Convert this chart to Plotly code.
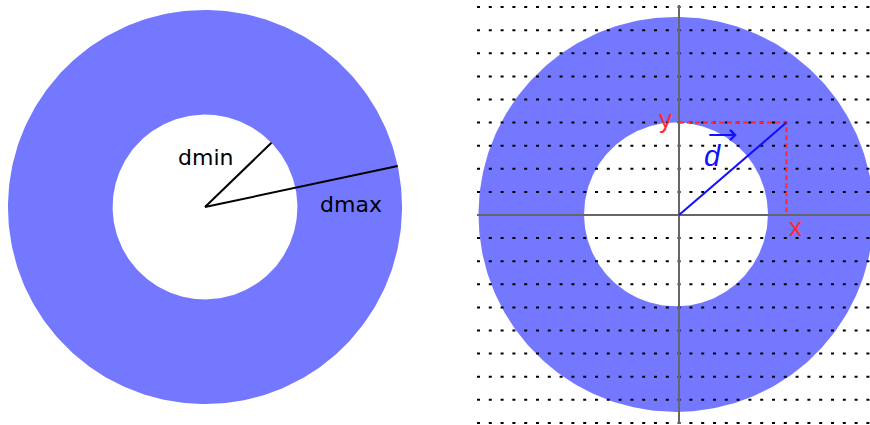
import numpy as np
import plotly.graph_objects as go

# ---- data ----
U = 23.1  # px per unit (layout only)
left_dmin = 4.0
left_dmax = 8.53
left_dmin_angle = 44.0
left_dmax_angle = 12.0
right_dmin = 3.98
right_dmax = 8.55
vec_d = [4.65, 4.0]
grid_rows = list(range(-9, 10))
labels_left = ["dmin", "dmax"]

FILL = "#7378ff"
FONT = "DejaVu Sans, Liberation Sans, Arial, sans-serif"
FONT2 = "Liberation Sans, Arial, sans-serif"
RING2_CENTER = (-3 / U, 0.6 / U)  # drawing offset of the right ring


def ring(r_in, r_out, cx=0.0, cy=0.0, n=361):
    t = np.linspace(0, 2 * np.pi, n)
    xo = list(cx + r_out * np.cos(t))
    yo = list(cy + r_out * np.sin(t))
    xi = list(cx + r_in * np.cos(-t))
    yi = list(cy + r_in * np.sin(-t))
    return xo + [None] + xi, yo + [None] + yi


fig = go.Figure()

# left annulus
rx, ry = ring(left_dmin, left_dmax)
fig.add_trace(go.Scatter(x=rx, y=ry, fill="toself", fillcolor=FILL, mode="lines",
                         line=dict(width=0, color=FILL), hoverinfo="skip",
                         xaxis="x", yaxis="y"))
for r, a in [(left_dmin, left_dmin_angle), (left_dmax, left_dmax_angle)]:
    fig.add_trace(go.Scatter(x=[0, r * np.cos(np.radians(a))], y=[0, r * np.sin(np.radians(a))],
                             mode="lines", line=dict(color="black", width=2),
                             xaxis="x", yaxis="y", hoverinfo="skip"))

# right annulus
rx2, ry2 = ring(right_dmin, right_dmax, *RING2_CENTER)
fig.add_trace(go.Scatter(x=rx2, y=ry2, fill="toself", fillcolor=FILL, mode="lines",
                         line=dict(width=0, color=FILL), hoverinfo="skip",
                         xaxis="x2", yaxis="y2"))

# right panel ranges
x2_range = [-202 / U, 191 / U]
y2_range = [-209 / U, 210 / U]

# dotted grid rows
gx, gy = [], []
for k in grid_rows:
    gx += [x2_range[0], x2_range[1], None]
    gy += [k, k, None]
fig.add_trace(go.Scatter(x=gx, y=gy, mode="lines",
                         line=dict(color="black", width=2, dash="3px,8.8px"),
                         xaxis="x2", yaxis="y2", hoverinfo="skip"))

# axes
fig.add_trace(go.Scatter(x=[x2_range[0], x2_range[1], None, 0, 0],
                         y=[0, 0, None, y2_range[0], y2_range[1]],
                         mode="lines", line=dict(color="#666666", width=2),
                         xaxis="x2", yaxis="y2", hoverinfo="skip"))

# red dashed projections
fig.add_trace(go.Scatter(x=[0, vec_d[0], vec_d[0]], y=[vec_d[1], vec_d[1], 0],
                         mode="lines", line=dict(color="#ff2a2a", width=2, dash="5px,3px"),
                         xaxis="x2", yaxis="y2", hoverinfo="skip"))
# vector d
fig.add_trace(go.Scatter(x=[0, vec_d[0]], y=[0, vec_d[1]], mode="lines",
                         line=dict(color="#1010ff", width=2),
                         xaxis="x2", yaxis="y2", hoverinfo="skip"))

ann = []
ann.append(dict(x=0, y=2.15, xref="x", yref="y", text=labels_left[0],
                showarrow=False, font=dict(family=FONT, size=22, color="black")))
ann.append(dict(x=6.3, y=0.1, xref="x", yref="y", text=labels_left[1],
                showarrow=False, font=dict(family=FONT, size=22, color="black")))
ann.append(dict(x=0, y=vec_d[1], xref="x2", yref="y2", text="y", xanchor="right",
                xshift=-5, yshift=4, showarrow=False,
                font=dict(family=FONT2, size=26, color="#ff2a2a")))
ann.append(dict(x=vec_d[0], y=0, xref="x2", yref="y2", text="x", xanchor="left",
                xshift=1, yshift=-12, showarrow=False,
                font=dict(family=FONT2, size=26, color="#ff2a2a")))
ann.append(dict(x=1.45, y=2.55, xref="x2", yref="y2", text="<i>d</i>",
                showarrow=False, font=dict(family=FONT2, size=29, color="#1010ff")))
ann.append(dict(x=2.5, y=3.46, ax=1.25, ay=3.46, xref="x2", yref="y2", axref="x2", ayref="y2",
                text="", showarrow=True, arrowhead=4, arrowsize=1, arrowwidth=2,
                arrowcolor="#1010ff"))

fig.update_layout(
    width=870, height=425,
    margin=dict(l=0, r=0, t=0, b=0),
    paper_bgcolor="white", plot_bgcolor="rgba(0,0,0,0)",
    showlegend=False,
    annotations=ann,
    xaxis=dict(domain=[0, 435 / 870], range=[-205 / U, 230 / U], visible=False),
    yaxis=dict(domain=[0, 1], range=[-(425 - 207) / U, 207 / U], visible=False),
    xaxis2=dict(domain=[477 / 870, 1], range=x2_range, visible=False),
    yaxis2=dict(domain=[1 / 425, 420 / 425], range=y2_range, visible=False, anchor="x2"),
)

fig.write_html("out.html", config={"displayModeBar": False},
               post_script="document.body.style.margin='0';")
